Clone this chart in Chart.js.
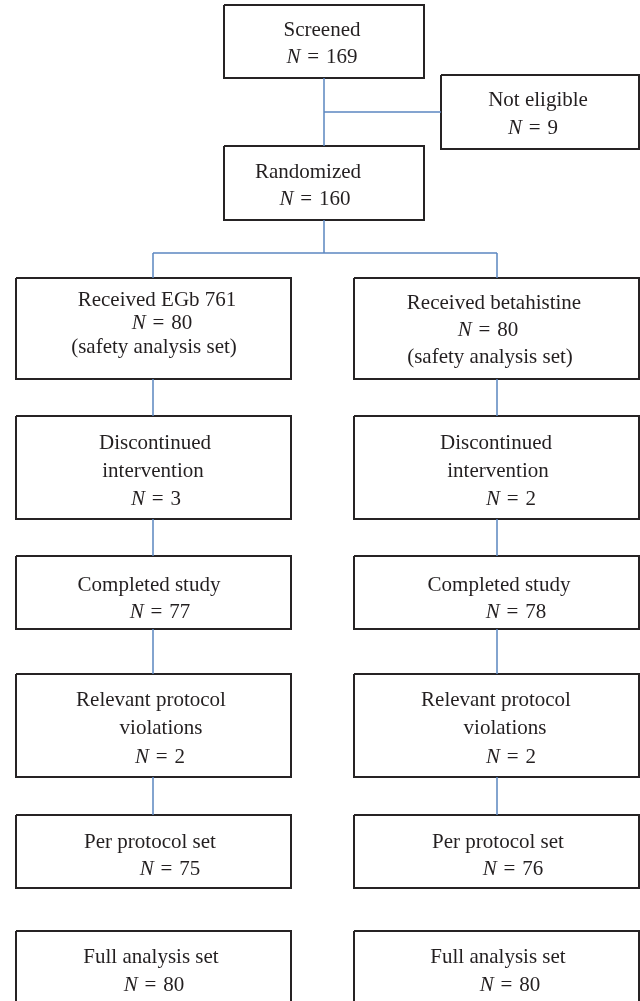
<!DOCTYPE html>
<html>
<head>
<meta charset="utf-8">
<script src="https://cdn.jsdelivr.net/npm/chart.js@4/dist/chart.umd.min.js"></script>
<style>
  html, body { margin: 0; padding: 0; background: #fff; }
  canvas { display: block; }
</style>
</head>
<body>
<canvas id="fluxo" width="640" height="1001"></canvas>
<script>
// ======= DADOS =======
const topLabels = ["Screened", "Not eligible", "Randomized"];
const topCounts = [169, 9, 160];

const arms = ["EGb 761", "betahistine"];
const stageLabels = ["Received", "Discontinued\nintervention", "Completed study",
  "Relevant protocol\nviolations", "Per protocol set", "Full analysis set"];
const stageNotes = ["(safety analysis set)", "", "", "", "", ""];
const egbCounts = [80, 3, 77, 2, 75, 80];
const betaCounts = [80, 2, 78, 2, 76, 80];

// ======= LAYOUT (coordenadas do fluxograma) =======
const topBoxes = [[224, 424, 5, 78], [441, 639, 75, 149], [224, 424, 146, 220]];
const topLineY = [[30, 57], [100, 128], [172, 199]];
const topLineX = [[322, 322], [538, 533], [308, 315]];

const colX = [[16, 291], [354, 639]];
const colMid = [153, 497];
const rowY = [[278, 379], [416, 519], [556, 629], [674, 777], [815, 888], [931, 1012]];
const lineY = [
  [[300, 323, 347], [303, 330, 357]],
  [[443, 471, 499], [443, 471, 499]],
  [[585, 612], [585, 612]],
  [[700, 728, 757], [700, 728, 757]],
  [[842, 869], [842, 869]],
  [[957, 985], [957, 985]]
];
const lineX = [
  [[157, 162, 154], [494, 488, 490]],
  [[155, 153, 156], [496, 498, 511]],
  [[149, 160], [499, 516]],
  [[151, 161, 160], [496, 505, 511]],
  [[150, 170], [498, 513]],
  [[151, 154], [498, 510]]
];

const corCaixa = "#262324";
const corLinha = "#5b86c0";
const corTexto = "#231f20";
const fonte = '"Liberation Serif", "DejaVu Serif", serif';
const tam = 21;

// ======= MONTAGEM =======
function retangulo(b) {
  const [x0, x1, y0, y1] = b;
  return [{x: x0, y: y0}, {x: x1, y: y0}, {x: x1, y: y1}, {x: x0, y: y1}, {x: x0, y: y0}];
}

const caixas = []; // {rect, linhas:[{texto, n, x, y}]}

topLabels.forEach((lbl, i) => {
  caixas.push({
    rect: topBoxes[i],
    linhas: [
      {texto: lbl, x: topLineX[i][0], y: topLineY[i][0]},
      {n: topCounts[i], x: topLineX[i][1], y: topLineY[i][1]}
    ]
  });
});

arms.forEach((arm, a) => {
  const counts = a === 0 ? egbCounts : betaCounts;
  stageLabels.forEach((lbl, r) => {
    const textos = (r === 0 ? lbl + " " + arm : lbl).split("\n");
    const linhas = textos.map(t => ({texto: t}));
    linhas.push({n: counts[r]});
    if (stageNotes[r]) linhas.push({texto: stageNotes[r]});
    linhas.forEach((l, k) => { l.x = lineX[r][a][k]; l.y = lineY[r][a][k]; });
    caixas.push({rect: [colX[a][0], colX[a][1], rowY[r][0], rowY[r][1]], linhas});
  });
});

const conectores = [
  [[324, 78], [324, 146]],
  [[324, 112], [441, 112]],
  [[324, 220], [324, 253]],
  [[colMid[0], 253], [colMid[1], 253]]
];
colMid.forEach(x => {
  conectores.push([[x, 253], [x, rowY[0][0]]]);
  for (let r = 0; r < 4; r++) conectores.push([[x, rowY[r][1]], [x, rowY[r + 1][0]]]);
});

const datasets = [];
conectores.forEach(c => datasets.push({
  data: c.map(p => ({x: p[0], y: p[1]})),
  showLine: true, borderColor: corLinha, borderWidth: 1.5,
  pointRadius: 0, fill: false, tension: 0
}));
caixas.forEach(c => datasets.push({
  data: retangulo(c.rect),
  showLine: true, borderColor: corCaixa, borderWidth: 2,
  pointRadius: 0, fill: false, tension: 0, borderJoinStyle: "miter"
}));

// ======= TEXTO =======
const textoPlugin = {
  id: "textoCaixas",
  afterDatasetsDraw(chart) {
    const {ctx, scales: {x, y}} = chart;
    const normal = tam + "px " + fonte;
    const italico = "italic " + tam + "px " + fonte;
    const gap = tam * 0.32;
    ctx.save();
    ctx.fillStyle = corTexto;
    ctx.textBaseline = "middle";
    ctx.textAlign = "left";
    caixas.forEach(c => c.linhas.forEach(l => {
      const px = x.getPixelForValue(l.x);
      const py = y.getPixelForValue(l.y);
      if (l.n !== undefined) {
        ctx.font = italico;
        const wN = ctx.measureText("N").width;
        ctx.font = normal;
        const wEq = ctx.measureText("=").width;
        const num = String(l.n);
        const wNum = ctx.measureText(num).width;
        let cx = px - (wN + gap + wEq + gap + wNum) / 2;
        ctx.font = italico;
        ctx.fillText("N", cx, py);
        cx += wN + gap;
        ctx.font = normal;
        ctx.fillText("=", cx, py);
        cx += wEq + gap;
        ctx.fillText(num, cx, py);
      } else {
        ctx.font = normal;
        const w = ctx.measureText(l.texto).width;
        ctx.fillText(l.texto, px - w / 2, py);
      }
    }));
    ctx.restore();
  }
};

new Chart(document.getElementById("fluxo"), {
  type: "scatter",
  data: {datasets},
  options: {
    responsive: false,
    animation: false,
    layout: {padding: 0},
    plugins: {legend: {display: false}, tooltip: {enabled: false}},
    scales: {
      x: {type: "linear", min: 0, max: 640, display: false},
      y: {type: "linear", min: 0, max: 1001, reverse: true, display: false}
    }
  },
  plugins: [textoPlugin]
});
</script>
</body>
</html>
